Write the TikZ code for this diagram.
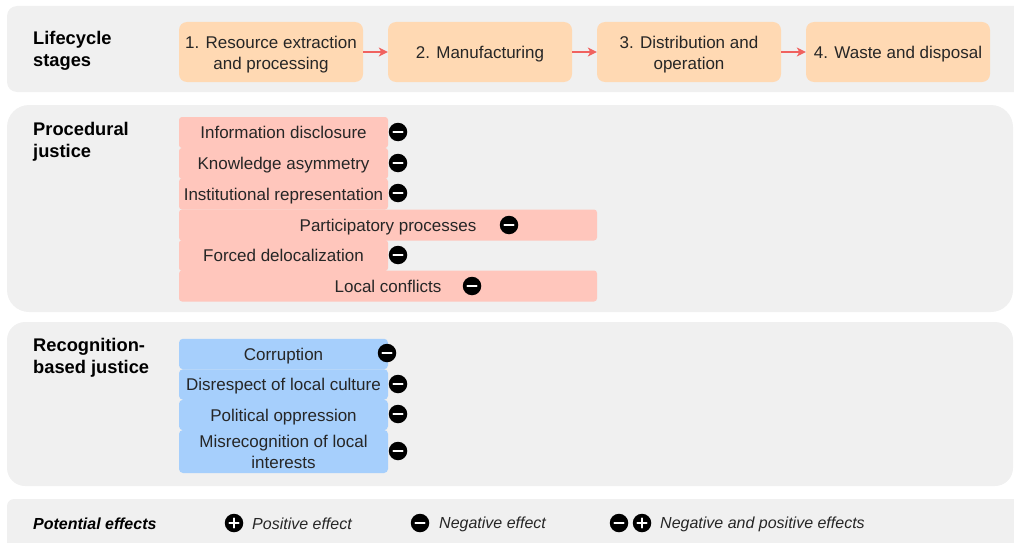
\documentclass[tikz,border=0pt]{standalone}
\usepackage{fontspec}
\setmainfont{Liberation Sans}
\usepackage{xcolor}
\usetikzlibrary{arrows.meta}
\definecolor{panelgray}{HTML}{F0F0F0}
\definecolor{stageorange}{HTML}{FFD9B3}
\definecolor{procred}{HTML}{FFC6BC}
\definecolor{recogblue}{HTML}{A6CFFC}
\definecolor{arrowred}{HTML}{F0625F}
\definecolor{textdark}{HTML}{262626}
\newcommand{\lowerlines}{\rule{0pt}{17pt}}
\tikzset{
    panel/.style = {rectangle, fill=panelgray, inner sep=0pt},
    tnode/.style = {align=center, inner sep=0pt, text centered, text=textdark, font=\fontsize{17}{21}\selectfont},
    one_line/.style = {text height=13pt, text depth=0pt},
    row_line/.style = {text height=12pt, text depth=0pt},
    head/.style = {align=left, inner sep=0pt, anchor=west, text=black, font=\fontsize{18.3}{22.5}\selectfont\bfseries},
    stage_node/.style = {tnode, rectangle, rounded corners=8pt, fill=stageorange, minimum width=184pt, minimum height=60pt},
    red_node/.style = {tnode, row_line, rectangle, rounded corners=3pt, fill=procred, minimum width=209pt, minimum height=31pt},
    red_wide/.style = {red_node, minimum width=418pt},
    blue_box/.style = {tnode, rectangle, rounded corners=4pt, fill=recogblue, minimum width=209pt, minimum height=30.5pt},
    blue_node/.style = {blue_box, row_line},
    effect/.style = {circle, fill=black, inner sep=0pt, minimum size=18.5pt},
    neg_node/.style = {effect, path picture={
        \draw[white, line width=2.2pt, line cap=round] ([xshift=-4.5pt]path picture bounding box.center) -- ([xshift=4.5pt]path picture bounding box.center);}},
    pos_node/.style = {effect, path picture={
        \draw[white, line width=2.2pt, line cap=round] ([xshift=-4.5pt]path picture bounding box.center) -- ([xshift=4.5pt]path picture bounding box.center);
        \draw[white, line width=2.2pt, line cap=round] ([yshift=-4.5pt]path picture bounding box.center) -- ([yshift=4.5pt]path picture bounding box.center);}},
    legend/.style = {tnode, anchor=west, font=\fontsize{16}{20}\selectfont\itshape},
    stage_arrow/.style = {-{Stealth[length=9pt, width=9pt, inset=2.5pt]}, draw=arrowred, fill=arrowred, line width=1.2pt}
}
\begin{document}
\begin{tikzpicture}[x=1pt, y=-1pt]
    \useasboundingbox (0,0) rectangle (1014,543);
    \clip (0,0) rectangle (1014,543);
    % panels
    \node (lifecycle_panel) [panel, rounded corners=10pt, minimum width=1030pt, minimum height=86pt] at (522,49) {};
    \node (procedural_panel) [panel, rounded corners=22pt, minimum width=1006pt, minimum height=207pt] at (510,208.5) {};
    \node (recognition_panel) [panel, rounded corners=18pt, minimum width=1006pt, minimum height=164pt] at (510,404) {};
    \node (effects_panel) [panel, rounded corners=7pt, minimum width=1030pt, minimum height=70pt] at (522,534) {};
    % headings
    \node (lifecycle_head) [head] at (33,51) {Lifecycle\\stages};
    \node (procedural_head) [head] at (33,142) {Procedural\\justice};
    \node (recognition_head) [head] at (33,358) {Recognition-\\based justice};
    % stages
    \node (stage1) [stage_node] at (271,52) {\lowerlines 1. Resource extraction\\and processing};
    \node (stage2) [stage_node, one_line] at (480,52) {2. Manufacturing};
    \node (stage3) [stage_node] at (689,52) {\lowerlines 3. Distribution and\\operation};
    \node (stage4) [stage_node, one_line] at (898,52) {4. Waste and disposal};
    \draw[stage_arrow] (stage1) -- (stage2);
    \draw[stage_arrow] (stage2) -- (stage3);
    \draw[stage_arrow] (stage3) -- (stage4);
    % procedural justice
    \node (disclosure) [red_node] at (283.5,132.5) {Information disclosure};
    \node (asymmetry) [red_node] at (283.5,163.5) {Knowledge asymmetry};
    \node (representation) [red_node] at (283.5,194) {Institutional representation};
    \node (participatory) [red_wide] at (388,225) {Participatory processes};
    \node (delocalization) [red_node] at (283.5,255.5) {Forced delocalization};
    \node (conflicts) [red_wide] at (388,286) {Local conflicts};
    \node (disclosure_neg) [neg_node] at (398,132) {};
    \node (asymmetry_neg) [neg_node] at (398,163) {};
    \node (representation_neg) [neg_node] at (398,193) {};
    \node (participatory_neg) [neg_node] at (509,225) {};
    \node (delocalization_neg) [neg_node] at (398,255) {};
    \node (conflicts_neg) [neg_node] at (472,286) {};
    % recognition-based justice
    \node (corruption) [blue_node] at (283.5,354) {Corruption};
    \node (disrespect) [blue_node] at (283.5,384.5) {Disrespect of local culture};
    \node (oppression) [blue_node] at (283.5,415) {Political oppression};
    \node (misrecognition) [blue_box, minimum height=43pt] at (283.5,451.5) {Misrecognition of local\\interests};
    \node (corruption_neg) [neg_node] at (387,353) {};
    \node (disrespect_neg) [neg_node] at (398,384) {};
    \node (oppression_neg) [neg_node] at (398,414) {};
    \node (misrecognition_neg) [neg_node] at (398,451) {};
    % potential effects
    \node (effects_head) [legend, text=black, font=\fontsize{16}{20}\selectfont\bfseries\itshape] at (33,524) {Potential effects};
    \node (pos_key) [pos_node] at (234,523) {};
    \node (pos_text) [legend] at (252,524) {Positive effect};
    \node (neg_key) [neg_node] at (420,523) {};
    \node (neg_text) [legend] at (439,524) {Negative effect};
    \node (both_neg_key) [neg_node] at (619,523) {};
    \node (both_pos_key) [pos_node] at (642,523) {};
    \node (both_text) [legend] at (660,524) {Negative and positive effects};
\end{tikzpicture}
\end{document}
